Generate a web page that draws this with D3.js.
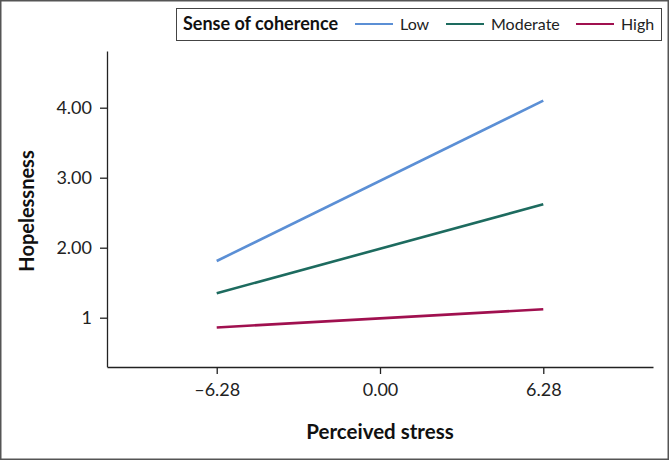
<!DOCTYPE html>
<html><head><meta charset="utf-8">
<script src="https://cdn.jsdelivr.net/npm/d3@7"></script>
<style>body{margin:0;background:#fff}svg{display:block}text{font-family:Lato,"Open Sans",sans-serif}</style>
</head><body>
<script>
const xValues = [-6.28, 6.28];
const seriesNames = ["Low", "Moderate", "High"];
const lowValues = [1.81, 4.10];
const moderateValues = [1.35, 2.62];
const highValues = [0.86, 1.12];
const xTickValues = [-6.28, 0, 6.28];
const xTickLabels = ["\u20136.28", "0.00", "6.28"];
const yTickValues = [1, 2, 3, 4];
const yTickLabels = ["1", "2.00", "3.00", "4.00"];
const colors = ["#5b8fd5", "#1d6b5f", "#a0104f"];

const W = 670, H = 461;
const svg = d3.select("body").append("svg").attr("width", W).attr("height", H);

svg.append("rect").attr("x", 0.75).attr("y", 0.75).attr("width", W - 2.5).attr("height", H - 2.5)
  .attr("fill", "#fff").attr("stroke", "#555").attr("stroke-width", 1.5);

const x = d3.scaleLinear().domain([-10.5, 10.5]).range([107, 653]);
const y = d3.scaleLinear().domain([0.3, 4.81]).range([366.7, 51]);

const xAxis = svg.append("g").attr("transform", "translate(0,367)")
  .call(d3.axisBottom(x).tickValues(xTickValues).tickFormat((d, i) => xTickLabels[i]).tickSizeInner(7).tickSizeOuter(0).tickPadding(9));
const yAxis = svg.append("g").attr("transform", "translate(107,0)")
  .call(d3.axisLeft(y).tickValues(yTickValues).tickFormat((d, i) => yTickLabels[i]).tickSizeInner(7).tickSizeOuter(0).tickPadding(8));
[xAxis, yAxis].forEach(g => {
  g.selectAll("text").attr("font-size", 18).attr("fill", "#222").style("font-family", "Lato, sans-serif");
  g.selectAll("line,path").attr("stroke", "#222").attr("stroke-width", 1.3);
});

const series = [lowValues, moderateValues, highValues];
const line = d3.line().x((d, i) => x(xValues[i])).y(d => y(d));
series.forEach((s, k) => {
  svg.append("path").datum(s).attr("d", line).attr("fill", "none")
    .attr("stroke", colors[k]).attr("stroke-width", 2.6);
});

svg.append("text").attr("x", 380).attr("y", 439).attr("text-anchor", "middle")
  .attr("font-size", 20.5).attr("font-weight", "bold").attr("fill", "#111").text("Perceived stress");
svg.append("text").attr("transform", "translate(34,211) rotate(-90)").attr("text-anchor", "middle")
  .attr("font-size", 20).attr("font-weight", "bold").attr("fill", "#111").text("Hopelessness");

// legend
const lg = svg.append("g");
lg.append("rect").attr("x", 176.5).attr("y", 8.5).attr("width", 485).attr("height", 32)
  .attr("fill", "#fff").attr("stroke", "#444").attr("stroke-width", 1);
lg.append("text").attr("x", 183).attr("y", 30).attr("font-size", 18).attr("font-weight", "bold")
  .attr("fill", "#111").text("Sense of coherence");
const legX = [355, 446, 576];
seriesNames.forEach((n, k) => {
  lg.append("line").attr("x1", legX[k]).attr("x2", legX[k] + 38).attr("y1", 24).attr("y2", 24)
    .attr("stroke", colors[k]).attr("stroke-width", 2.2);
  lg.append("text").attr("x", legX[k] + 45).attr("y", 30).attr("font-size", 16)
    .attr("fill", "#222").text(n);
});
</script>
</body></html>
